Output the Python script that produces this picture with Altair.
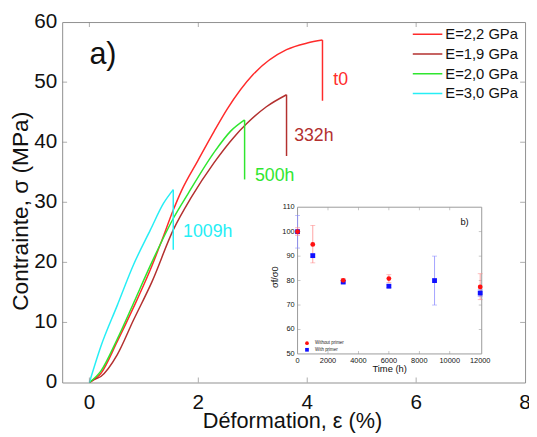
import altair as alt
import pandas as pd

FONT = "Liberation Sans"

# ---------------- main chart data ----------------
series_names = ["E=2,2 GPa", "E=1,9 GPa", "E=2,0 GPa", "E=3,0 GPa"]
series_colors = ["#ff2b2b", "#b3302f", "#2fe62f", "#26eef5"]

eps_22 = [0, 0.21, 0.51, 0.81, 1.12, 1.32, 1.54, 1.69, 1.99, 2.29, 2.53, 3.01, 3.62, 4.00, 4.28]
sig_22 = [0, 1.5, 6.8, 12.5, 18.8, 23.4, 28.7, 31.9, 36.9, 41.8, 45.5, 51.3, 55.4, 56.5, 57.0]
eps_19 = [0, 0.06, 0.21, 0.51, 0.81, 1.15, 1.54, 1.87, 2.29, 2.65, 2.89, 3.25, 3.62]
sig_19 = [0, 0.4, 1.0, 4.6, 10.4, 16.8, 25.4, 30.8, 36.6, 40.8, 43.1, 45.9, 47.9]
eps_20 = [0, 0.21, 0.51, 0.81, 1.12, 1.54, 1.81, 2.29, 2.59, 2.85]
sig_20 = [0, 1.9, 7.2, 13.2, 19.5, 27.3, 31.4, 38.3, 41.8, 43.7]
eps_30 = [0, 0.21, 0.51, 0.81, 1.12, 1.36, 1.54]
sig_30 = [0, 6.0, 12.8, 19.6, 25.4, 29.8, 32.1]
# stress value reached right after rupture (bottom of the vertical drop)
break_sig = [46.9, 37.7, 33.8, 22.1]

age_labels = ["t0", "332h", "500h", "1009h"]
age_eps = [4.48, 3.76, 3.04, 1.72]
age_sig = [49.5, 40.2, 33.6, 24.3]

x_ticks = [0, 2, 4, 6, 8]
y_ticks = [0, 10, 20, 30, 40, 50, 60]
x_title = "Déformation, ε (%)"
y_title = "Contrainte, σ (MPa)"

# ---------------- inset data ----------------
t_red = [0, 1000, 3000, 6000, 12000]
m_red = [100, 94.8, 80.1, 80.8, 77.4]
lo_red = [98.5, 87.2, 79.4, 79.2, 72.2]
hi_red = [101.6, 102.6, 80.8, 82.4, 82.8]

t_blue = [0, 1000, 3000, 6000, 9000, 12000]
m_blue = [100, 90.2, 79.4, 77.7, 80.0, 74.9]
lo_blue = [93.3, 89.6, 78.9, 77.2, 70.0, 73.5]
hi_blue = [106.6, 90.8, 79.9, 78.2, 90.0, 76.3]

inset_legend = ["Without primer", "With primer"]
inset_x_ticks = [0, 2000, 4000, 6000, 8000, 10000, 12000]
inset_y_ticks = [50, 60, 70, 80, 90, 100, 110]

# ---------------- build tables ----------------
all_eps = [eps_22, eps_19, eps_20, eps_30]
all_sig = [sig_22, sig_19, sig_20, sig_30]
rows = []
for name, xs, ys in zip(series_names, all_eps, all_sig):
    for i, (a, b) in enumerate(zip(xs, ys)):
        rows.append({"serie": name, "eps": a, "sig": b, "order": i})
curves = pd.DataFrame(rows)
drops = pd.DataFrame({
    "serie": series_names,
    "eps": [xs[-1] for xs in all_eps],
    "top": [ys[-1] for ys in all_sig],
    "bottom": break_sig,
})
ages = pd.DataFrame({"serie": series_names, "label": age_labels, "eps": age_eps, "sig": age_sig})

red_df = pd.DataFrame({"t": t_red, "m": m_red, "lo": lo_red, "hi": hi_red})
blue_df = pd.DataFrame({"t": t_blue, "m": m_blue, "lo": lo_blue, "hi": hi_blue})
one = pd.DataFrame({"k": [0]})

X_MAIN = alt.Scale(domain=[-0.5, 8], nice=False, zero=False)
Y_MAIN = alt.Scale(domain=[0, 60], nice=False, zero=False)
color_scale = alt.Scale(domain=series_names, range=series_colors)

lines = alt.Chart(curves).mark_line(strokeWidth=1.5, interpolate="monotone").encode(
    x=alt.X("eps:Q", scale=X_MAIN, axis=None),
    y=alt.Y("sig:Q", scale=Y_MAIN, axis=None),
    color=alt.Color("serie:N", scale=color_scale, legend=alt.Legend(
        orient="none", legendX=355, legendY=5, title=None, symbolType="stroke",
        symbolSize=900, symbolStrokeWidth=1.5, clipHeight=15, rowPadding=4,
        labelFontSize=15, labelOffset=2, padding=0, labelColor="#111")),
    order="order:Q",
)

drop_rules = alt.Chart(drops).mark_rule(strokeWidth=1.5).encode(
    x=alt.X("eps:Q", scale=X_MAIN, axis=None),
    y=alt.Y("top:Q", scale=Y_MAIN, axis=None),
    y2="bottom:Q",
    color=alt.Color("serie:N", scale=color_scale, legend=None),
)

age_text = alt.Chart(ages).mark_text(fontSize=18, align="left", baseline="alphabetic").encode(
    x=alt.X("eps:Q", scale=X_MAIN, axis=None),
    y=alt.Y("sig:Q", scale=Y_MAIN, axis=None),
    text="label:N",
    color=alt.Color("serie:N", scale=color_scale, legend=None),
)

panel_a = alt.Chart(one).mark_text(
    text="a)", fontSize=31, align="left", baseline="alphabetic", color="#111"
).encode(
    x=alt.X(datum=0, scale=X_MAIN, axis=None),
    y=alt.Y(datum=53, scale=Y_MAIN, axis=None),
)

# axis labels and titles of the main panel, drawn through the main scales
xl_df = pd.DataFrame({"v": x_ticks})
yl_df = pd.DataFrame({"v": y_ticks})
x_labels = alt.Chart(xl_df).mark_text(fontSize=21, baseline="top", dy=10, color="#111").encode(
    x=alt.X("v:Q", scale=X_MAIN, axis=None), y=alt.Y(datum=0, scale=Y_MAIN, axis=None), text="v:Q")
y_labels = alt.Chart(yl_df).mark_text(fontSize=21, align="right", baseline="middle", dx=-5, color="#111").encode(
    y=alt.Y("v:Q", scale=Y_MAIN, axis=None), x=alt.X(datum=-0.5, scale=X_MAIN, axis=None), text="v:Q")
x_title_mark = alt.Chart(one).mark_text(text=x_title, fontSize=22, baseline="alphabetic", dy=46, color="#111").encode(
    x=alt.X(datum=3.73, scale=X_MAIN, axis=None), y=alt.Y(datum=0, scale=Y_MAIN, axis=None))
y_title_mark = alt.Chart(one).mark_text(text=y_title, fontSize=23, angle=270, baseline="alphabetic", color="#111").encode(
    x=alt.X(datum=-1.13, scale=X_MAIN, axis=None), y=alt.Y(datum=28.5, scale=Y_MAIN, axis=None))

# inward tick marks on the four sides of the main frame
TICK_C = "#8a8a8a"
xt_df = pd.DataFrame({"v": x_ticks[:-1]})
yt_df = pd.DataFrame({"v": y_ticks[1:-1]})
tick_bottom = alt.Chart(xt_df).mark_tick(orient="vertical", size=5, thickness=1, color=TICK_C, yOffset=-2.5).encode(
    x=alt.X("v:Q", scale=X_MAIN, axis=None), y=alt.Y(datum=0, scale=Y_MAIN, axis=None))
tick_top = alt.Chart(xt_df).mark_tick(orient="vertical", size=5, thickness=1, color=TICK_C, yOffset=2.5).encode(
    x=alt.X("v:Q", scale=X_MAIN, axis=None), y=alt.Y(datum=60, scale=Y_MAIN, axis=None))
tick_left = alt.Chart(yt_df).mark_tick(orient="horizontal", size=5, thickness=1, color=TICK_C, xOffset=2.5).encode(
    y=alt.Y("v:Q", scale=Y_MAIN, axis=None), x=alt.X(datum=-0.5, scale=X_MAIN, axis=None))
tick_right = alt.Chart(yt_df).mark_tick(orient="horizontal", size=5, thickness=1, color=TICK_C, xOffset=-2.5).encode(
    y=alt.Y("v:Q", scale=Y_MAIN, axis=None), x=alt.X(datum=8, scale=X_MAIN, axis=None))

main = alt.layer(lines, drop_rules, age_text, panel_a, x_labels, y_labels, x_title_mark, y_title_mark,
                 tick_bottom, tick_top, tick_left, tick_right)

# ---------------- inset ----------------
X_IN = alt.Scale(domain=[0, 12100], range=[239, 426], nice=False, zero=False)
Y_IN = alt.Scale(domain=[50, 110], range=[337, 188], nice=False, zero=False)

frame = alt.Chart(one).mark_rect(fill="white", stroke="#9a9a9a", strokeWidth=1).encode(
    x=alt.X(datum=0, scale=X_IN, axis=None),
    x2=alt.X2(datum=12100),
    y=alt.Y(datum=50, scale=Y_IN, axis=None),
    y2=alt.Y2(datum=110),
)

ixt = pd.DataFrame({"v": inset_x_ticks})
iyt = pd.DataFrame({"v": inset_y_ticks})
in_xlabels = alt.Chart(ixt).mark_text(fontSize=7.5, baseline="top", dy=3, color="#111").encode(
    x=alt.X("v:Q", scale=X_IN, axis=None), y=alt.Y(datum=50, scale=Y_IN, axis=None), text="v:Q")
in_ylabels = alt.Chart(iyt).mark_text(fontSize=7.5, align="right", baseline="middle", dx=-3, color="#111").encode(
    y=alt.Y("v:Q", scale=Y_IN, axis=None), x=alt.X(datum=0, scale=X_IN, axis=None), text="v:Q")
in_xtitle = alt.Chart(one).mark_text(text="Time (h)", fontSize=9.5, baseline="alphabetic", dy=18, color="#111").encode(
    x=alt.X(datum=6050, scale=X_IN, axis=None), y=alt.Y(datum=50, scale=Y_IN, axis=None))
in_ytitle = alt.Chart(one).mark_text(text="σf/σ0", fontSize=9.5, angle=270, baseline="alphabetic", color="#111").encode(
    x=alt.X(datum=-1300, scale=X_IN, axis=None), y=alt.Y(datum=81.4, scale=Y_IN, axis=None))

ITICK = "#9a9a9a"
ixt_in = pd.DataFrame({"v": inset_x_ticks[1:-1]})
iyt_in = pd.DataFrame({"v": inset_y_ticks[1:-1]})
in_tb = alt.Chart(ixt_in).mark_tick(orient="vertical", size=3, thickness=0.8, color=ITICK, yOffset=-1.5).encode(
    x=alt.X("v:Q", scale=X_IN, axis=None), y=alt.Y(datum=50, scale=Y_IN, axis=None))
in_tt = alt.Chart(ixt_in).mark_tick(orient="vertical", size=3, thickness=0.8, color=ITICK, yOffset=1.5).encode(
    x=alt.X("v:Q", scale=X_IN, axis=None), y=alt.Y(datum=110, scale=Y_IN, axis=None))
in_tl = alt.Chart(iyt_in).mark_tick(orient="horizontal", size=3, thickness=0.8, color=ITICK, xOffset=1.5).encode(
    y=alt.Y("v:Q", scale=Y_IN, axis=None), x=alt.X(datum=0, scale=X_IN, axis=None))
in_tr = alt.Chart(iyt_in).mark_tick(orient="horizontal", size=3, thickness=0.8, color=ITICK, xOffset=-1.5).encode(
    y=alt.Y("v:Q", scale=Y_IN, axis=None), x=alt.X(datum=12100, scale=X_IN, axis=None))


def err_layers(df, col):
    light = "#ff8c8c" if col == "red" else "#8c8cff"
    rule = alt.Chart(df).mark_rule(color=light, strokeWidth=0.8).encode(
        x=alt.X("t:Q", scale=X_IN, axis=None),
        y=alt.Y("lo:Q", scale=Y_IN, axis=None),
        y2="hi:Q",
    )
    cap_lo = alt.Chart(df).mark_tick(color=light, orient="horizontal", size=5, thickness=0.8).encode(
        x=alt.X("t:Q", scale=X_IN, axis=None),
        y=alt.Y("lo:Q", scale=Y_IN, axis=None),
    )
    cap_hi = alt.Chart(df).mark_tick(color=light, orient="horizontal", size=5, thickness=0.8).encode(
        x=alt.X("t:Q", scale=X_IN, axis=None),
        y=alt.Y("hi:Q", scale=Y_IN, axis=None),
    )
    return [rule, cap_lo, cap_hi]


blue_pts = alt.Chart(blue_df).mark_point(shape="square", filled=True, size=24, color="#1010ff", opacity=1).encode(
    x=alt.X("t:Q", scale=X_IN, axis=None),
    y=alt.Y("m:Q", scale=Y_IN, axis=None),
)
red_pts = alt.Chart(red_df).mark_point(shape="circle", filled=True, size=24, color="#ff1010", opacity=1).encode(
    x=alt.X("t:Q", scale=X_IN, axis=None),
    y=alt.Y("m:Q", scale=Y_IN, axis=None),
)

leg_red = alt.Chart(one).mark_point(shape="circle", filled=True, size=14, color="#ff1010", opacity=1).encode(
    x=alt.X(datum=620, scale=X_IN, axis=None), y=alt.Y(datum=54.4, scale=Y_IN, axis=None))
leg_blue = alt.Chart(one).mark_point(shape="square", filled=True, size=14, color="#1010ff", opacity=1).encode(
    x=alt.X(datum=620, scale=X_IN, axis=None), y=alt.Y(datum=51.7, scale=Y_IN, axis=None))
leg_t1 = alt.Chart(one).mark_text(text=inset_legend[0], fontSize=4.5, align="left", color="#222").encode(
    x=alt.X(datum=1150, scale=X_IN, axis=None), y=alt.Y(datum=54.4, scale=Y_IN, axis=None))
leg_t2 = alt.Chart(one).mark_text(text=inset_legend[1], fontSize=4.5, align="left", color="#222").encode(
    x=alt.X(datum=1150, scale=X_IN, axis=None), y=alt.Y(datum=51.7, scale=Y_IN, axis=None))
panel_b = alt.Chart(one).mark_text(text="b)", fontSize=9.5, align="left", baseline="alphabetic", color="#111").encode(
    x=alt.X(datum=10700, scale=X_IN, axis=None), y=alt.Y(datum=102.8, scale=Y_IN, axis=None))

inset = alt.layer(
    frame, in_tb, in_tt, in_tl, in_tr, in_xlabels, in_ylabels, in_xtitle, in_ytitle,
    *err_layers(blue_df, "blue"), *err_layers(red_df, "red"),
    blue_pts, red_pts, leg_red, leg_blue, leg_t1, leg_t2, panel_b,
)

chart = alt.layer(main, inset).resolve_scale(x="independent", y="independent").properties(
    width=470, height=366,
    autosize=alt.AutoSizeParams(type="none"),
    padding={"left": 55, "top": 11, "right": 4, "bottom": 48},
).configure(font=FONT).configure_view(stroke="#8f8f8f", strokeWidth=1)

chart.save("out.html", embed_options={"renderer": "svg", "actions": False})
